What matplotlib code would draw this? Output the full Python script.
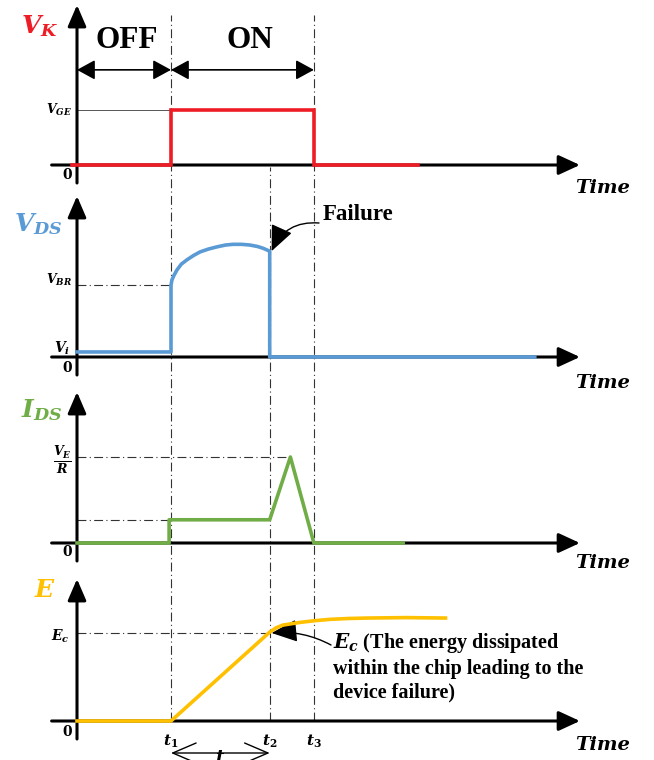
import matplotlib
matplotlib.use('Agg')
import matplotlib.pyplot as plt

# Bold italic serif for all the math labels
plt.rcParams['mathtext.fontset'] = 'custom'
plt.rcParams['mathtext.it'] = 'DejaVu Serif:italic:bold'
plt.rcParams['mathtext.rm'] = 'DejaVu Serif:bold'
plt.rcParams['mathtext.bf'] = 'DejaVu Serif:italic:bold'

# ---- data (time in units of t1) ----
t1, t2, t3 = 1.0, 2.05, 2.52
t_labels = ['$t_1$', '$t_2$', '$t_3$']

vk_t = [-0.05, 1.0, 1.0, 2.52, 2.52, 3.63]
vk_v = [0, 0, 1, 1, 0, 0]

vds_t = [0, 1.0, 1.0, 1.01, 1.03, 1.064, 1.11, 1.17, 1.24, 1.31, 1.40, 1.49,
         1.58, 1.66, 1.75, 1.84, 1.92, 1.98, 2.05, 2.05, 4.87]
vds_v = [0.07, 0.07, 1.0, 1.07, 1.13, 1.21, 1.29, 1.35, 1.41, 1.46, 1.50, 1.53,
         1.555, 1.565, 1.565, 1.555, 1.535, 1.51, 1.47, 0, 0]
v_i = 0.07
v_br = 1.0

ids_t = [0, 0.98, 0.98, 2.05, 2.27, 2.52, 3.47]
ids_v = [0, 0, 0.27, 0.27, 1.0, 0, 0]
i_low = 0.27
i_peak_t = 2.27

e_t = [0, 1.0, 2.05, 2.12, 2.19, 2.28, 2.37, 2.53, 2.69, 2.89, 3.09, 3.50, 3.92]
e_v = [0, 0, 1.01, 1.06, 1.09, 1.105, 1.12, 1.14, 1.155, 1.165, 1.17, 1.175, 1.17]

# ---- layout ----
W, H = 654, 760
ORIGIN_PX, PX_PER_T = 77, 94
X0, X1 = -ORIGIN_PX / PX_PER_T, (W - ORIGIN_PX) / PX_PER_T
AX_START, AX_TIP = -0.27, 5.35

RED, BLUE, GREEN, YELLOW = '#ee1c25', '#5b9bd5', '#70ad47', '#ffc000'
GUIDE = dict(color='#333333', lw=0.8, linestyle=(0, (8, 3, 1, 3)))

fig = plt.figure(figsize=(W / 100, H / 100), dpi=100)


def fpos(x, y):
    # pixel position -> figure fraction
    return x / W, 1 - y / H


def panel(top, bottom, base, unit, tip_px):
    ax = fig.add_axes([0, 1 - bottom / H, 1, (bottom - top) / H])
    ax.set_xlim(X0, X1)
    ax.set_ylim((base - bottom) / unit, (base - top) / unit)
    ax.set_axis_off()
    # horizontal axis with arrow
    ax.annotate('', xy=(AX_TIP, 0), xytext=(AX_START, 0),
                arrowprops=dict(arrowstyle='-|>,head_length=0.65,head_width=0.3',
                                mutation_scale=20, lw=2.2, color='k',
                                shrinkA=0, shrinkB=0), annotation_clip=False)
    # vertical axis with arrow
    ax.annotate('', xy=(0, (base - tip_px) / unit), xytext=(0, -18 / unit),
                arrowprops=dict(arrowstyle='-|>,head_length=0.65,head_width=0.28',
                                mutation_scale=20, lw=2.2, color='k',
                                shrinkA=0, shrinkB=0), annotation_clip=False)
    return ax


# overlay for the vertical guide lines across all panels
ov = fig.add_axes([0, 0, 1, 1])
ov.set_xlim(X0, X1)
ov.set_ylim(0, 1)
ov.set_axis_off()
for t, top_px in zip([t1, t2, t3], [15, 167, 15]):
    ov.vlines(t, 1 - 721 / H, 1 - top_px / H, **GUIDE)

ax1 = panel(0, 190, 165, 55, 5)
ax2 = panel(190, 385, 357, 72, 196)
ax3 = panel(385, 570, 543, 86, 392)
ax4 = panel(570, 760, 721, 88, 579)

DBL = dict(arrowstyle='<|-|>,head_length=0.55,head_width=0.3',
           mutation_scale=20, lw=1.2, color='k', shrinkA=0, shrinkB=0)

# ---- V_K ----
ax1.plot([0, t1], [1, 1], color='#555555', lw=0.7)
ax1.plot(vk_t, vk_v, color=RED, lw=2.6, solid_joinstyle='miter', zorder=5)
ax1.annotate('', xy=(0, 1.73), xytext=(t1, 1.73), arrowprops=DBL)
ax1.annotate('', xy=(t1, 1.73), xytext=(t3, 1.73), arrowprops=DBL)
fig.text(*fpos(127, 41), 'OFF', family='Liberation Serif', weight='bold',
         fontsize=22.5, ha='center', va='center')
fig.text(*fpos(250, 41), 'ON', family='Liberation Serif', weight='bold',
         fontsize=22.5, ha='center', va='center')
fig.text(*fpos(40, 26), '$V_K$', color=RED, fontsize=18, ha='center', va='center')
fig.text(*fpos(72, 110), '$V_{GE}$', fontsize=9, ha='right', va='center')

# ---- V_DS ----
ax2.plot([0, t1], [v_br, v_br], **GUIDE)
ax2.plot(vds_t, vds_v, color=BLUE, lw=2.6, zorder=5)
fig.text(*fpos(38, 224), '$V_{DS}$', color=BLUE, fontsize=18, ha='center', va='center')
fig.text(*fpos(72, 280), '$V_{BR}$', fontsize=9, ha='right', va='center')
fig.text(*fpos(70, 348), '$V_i$', fontsize=10, ha='right', va='center')
fig.text(*fpos(323, 215), 'Failure', family='Liberation Serif', weight='bold',
         fontsize=16.5, ha='left', va='center')
ax2.annotate('', xy=(t2 + 0.02, 1.47), xytext=fpos(319, 223), textcoords='figure fraction',
             arrowprops=dict(arrowstyle='-|>,head_length=0.8,head_width=0.35',
                             mutation_scale=20, lw=1.0, color='k',
                             connectionstyle='arc3,rad=0.35', shrinkA=0, shrinkB=0))

# ---- I_DS ----
ax3.plot([0, t1], [i_low, i_low], **GUIDE)
ax3.plot([0, i_peak_t], [1, 1], **GUIDE)
ax3.plot(ids_t, ids_v, color=GREEN, lw=2.6, zorder=5)
fig.text(*fpos(42, 410), '$I_{DS}$', color=GREEN, fontsize=18, ha='center', va='center')
fig.text(*fpos(62, 460), r'$\frac{V_E}{R}$', fontsize=13, ha='center', va='center')

# ---- E ----
ax4.plot([0, t2], [1, 1], **GUIDE)
ax4.plot(e_t, e_v, color=YELLOW, lw=2.6, zorder=5)
fig.text(*fpos(45, 590), '$E$', color=YELLOW, fontsize=18, ha='center', va='center')
fig.text(*fpos(70, 636), '$E_c$', fontsize=10, ha='right', va='center')
fig.text(*fpos(333, 631), '$E_c$ (The energy dissipated\nwithin the chip leading to the\ndevice failure)',
         family='Liberation Serif', weight='bold', fontsize=14.5, ha='left', va='top',
         linespacing=1.25)
ax4.annotate('', xy=(t2 + 0.02, 1.0), xytext=fpos(331, 645), textcoords='figure fraction',
             arrowprops=dict(arrowstyle='-|>,head_length=0.8,head_width=0.35',
                             mutation_scale=20, lw=1.0, color='k',
                             connectionstyle='arc3,rad=0.15', shrinkA=0, shrinkB=0))
for t, lab in zip([t1, t2, t3], t_labels):
    ax4.text(t, -12 / 88, lab, fontsize=11, ha='center', va='top')
ax4.annotate('', xy=(t1, -32 / 88), xytext=(t2, -32 / 88),
             arrowprops=dict(arrowstyle='<->,head_length=1.4,head_width=0.6',
                             mutation_scale=12, lw=1.0, color='k', shrinkA=0, shrinkB=0),
             annotation_clip=False)
fig.text(*fpos(220, 749), '$t$', fontsize=13, ha='center', va='top')

# zeros and Time labels
for y0 in [175, 368, 552, 732]:
    fig.text(*fpos(72, y0), '0', family='DejaVu Serif', weight='bold', fontsize=10,
             ha='right', va='center')
for yt in [188, 383, 563, 745]:
    fig.text(*fpos(603, yt), 'Time', family='DejaVu Serif', style='italic', weight='bold',
             fontsize=14, ha='center', va='center')

fig.savefig('out.png', dpi=100)
